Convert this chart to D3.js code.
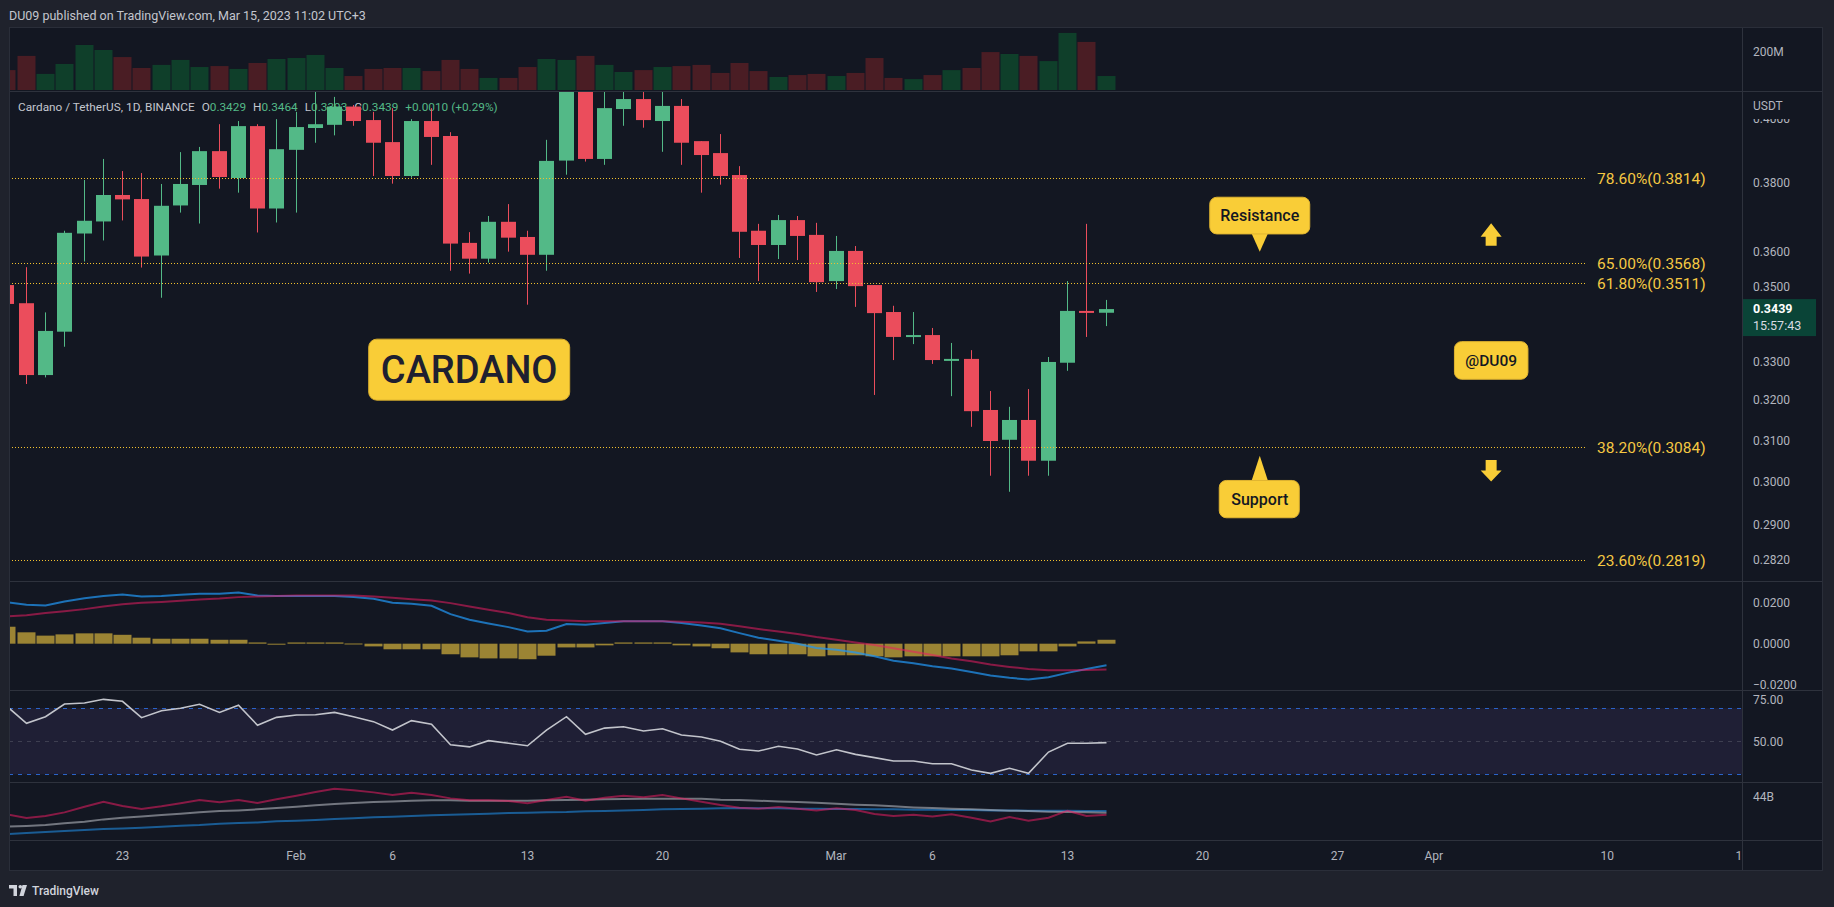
<!DOCTYPE html>
<html>
<head>
<meta charset="utf-8">
<title>Cardano / TetherUS</title>
<script src="https://cdn.jsdelivr.net/npm/d3@7"></script>
<style>
  html, body { margin: 0; padding: 0; background: #1e222d; overflow: hidden; }
  svg { display: block; font-family: Roboto, "Noto Sans", sans-serif; }
</style>
</head>
<body>
<div id="chart"></div>
<script>
// daily candles Jan 17 .. Mar 15 2023
var openPrices = [0.3505, 0.3455, 0.3264, 0.3378, 0.3651, 0.3686, 0.3764, 0.3752, 0.3588, 0.3733,
  0.3794, 0.3897, 0.3815, 0.3975, 0.3724, 0.3901, 0.3969, 0.3979, 0.4037, 0.3994,
  0.3925, 0.3821, 0.3991, 0.3944, 0.3624, 0.3579, 0.3685, 0.3641, 0.3590, 0.3868,
  0.4100, 0.3873, 0.4029, 0.4061, 0.3991, 0.4039, 0.3928, 0.3891, 0.3824, 0.3659,
  0.3618, 0.3690, 0.3647, 0.3516, 0.3601, 0.3505, 0.3431, 0.3364, 0.3369, 0.3303,
  0.3306, 0.3175, 0.3101, 0.3150, 0.3050, 0.3296, 0.3434, 0.3429];
var highPrices = [0.3540, 0.3555, 0.3430, 0.3659, 0.3809, 0.3873, 0.3836, 0.3830, 0.3797, 0.3894,
  0.3910, 0.3981, 0.3991, 0.3981, 0.3997, 0.4020, 0.4120, 0.4068, 0.4042, 0.4020,
  0.4032, 0.3997, 0.4032, 0.3956, 0.3655, 0.3702, 0.3737, 0.3659, 0.3932, 0.4130,
  0.4200, 0.4110, 0.4100, 0.4100, 0.4120, 0.4061, 0.3928, 0.3950, 0.3851, 0.3679,
  0.3705, 0.3702, 0.3682, 0.3644, 0.3615, 0.3505, 0.3448, 0.3431, 0.3388, 0.3348,
  0.3329, 0.3223, 0.3183, 0.3228, 0.3311, 0.3516, 0.3679, 0.3464];
var lowPrices = [0.3440, 0.3241, 0.3258, 0.3338, 0.3571, 0.3631, 0.3689, 0.3554, 0.3470, 0.3712,
  0.3680, 0.3783, 0.3771, 0.3654, 0.3683, 0.3712, 0.3923, 0.3946, 0.3976, 0.3821,
  0.3798, 0.3816, 0.3855, 0.3545, 0.3537, 0.3568, 0.3599, 0.3451, 0.3545, 0.3825,
  0.3865, 0.3855, 0.3976, 0.3970, 0.3895, 0.3855, 0.3771, 0.3795, 0.3581, 0.3516,
  0.3578, 0.3575, 0.3486, 0.3494, 0.3445, 0.3213, 0.3303, 0.3345, 0.3293, 0.3210,
  0.3133, 0.3014, 0.2976, 0.3014, 0.3014, 0.3275, 0.3364, 0.3393];
var closePrices = [0.3453, 0.3264, 0.3380, 0.3653, 0.3688, 0.3764, 0.3751, 0.3585, 0.3732, 0.3797,
  0.3897, 0.3818, 0.3975, 0.3724, 0.3903, 0.3972, 0.3981, 0.4037, 0.3991, 0.3923,
  0.3821, 0.3991, 0.3941, 0.3622, 0.3579, 0.3685, 0.3639, 0.3590, 0.3867, 0.4100,
  0.3873, 0.4032, 0.4061, 0.3994, 0.4039, 0.3923, 0.3885, 0.3821, 0.3656, 0.3618,
  0.3690, 0.3644, 0.3513, 0.3601, 0.3502, 0.3428, 0.3364, 0.3369, 0.3303, 0.3306,
  0.3172, 0.3098, 0.3150, 0.3050, 0.3298, 0.3434, 0.3429, 0.3439];
// volume in millions
var volumes = [104, 178, 84, 136, 235, 209, 172, 115, 131, 157,
  120, 125, 110, 141, 162, 167, 183, 115, 73, 110,
  115, 115, 99, 157, 110, 63, 63, 120, 162, 157,
  178, 131, 94, 104, 120, 125, 131, 89, 141, 99,
  68, 78, 84, 73, 89, 167, 63, 57, 78, 104,
  115, 198, 188, 178, 151, 298, 251, 73];

var macdLine = [0.0201, 0.0188, 0.0185, 0.0204, 0.0220, 0.0231, 0.0238, 0.0228, 0.0230, 0.0236,
  0.0241, 0.0241, 0.0247, 0.0233, 0.0231, 0.0231, 0.0231, 0.0231, 0.0226, 0.0217,
  0.0198, 0.0193, 0.0183, 0.0143, 0.0116, 0.0098, 0.0080, 0.0059, 0.0063, 0.0095,
  0.0092, 0.0100, 0.0108, 0.0109, 0.0109, 0.0100, 0.0088, 0.0075, 0.0051, 0.0029,
  0.0014, 0.0000, -0.0021, -0.0029, -0.0043, -0.0061, -0.0082, -0.0095, -0.0109, -0.0120,
  -0.0137, -0.0154, -0.0165, -0.0173, -0.0162, -0.0141, -0.0122, -0.0104];
var signalLine = [0.0132, 0.0138, 0.0148, 0.0157, 0.0167, 0.0180, 0.0191, 0.0198, 0.0202, 0.0207,
  0.0214, 0.0218, 0.0225, 0.0228, 0.0231, 0.0233, 0.0233, 0.0233, 0.0233, 0.0228,
  0.0222, 0.0215, 0.0209, 0.0196, 0.0180, 0.0164, 0.0148, 0.0128, 0.0116, 0.0112,
  0.0109, 0.0108, 0.0108, 0.0108, 0.0108, 0.0106, 0.0103, 0.0096, 0.0084, 0.0071,
  0.0059, 0.0047, 0.0032, 0.0019, 0.0006, -0.0006, -0.0022, -0.0039, -0.0055, -0.0071,
  -0.0085, -0.0100, -0.0112, -0.0122, -0.0128, -0.0128, -0.0127, -0.0125];
var macdHist = [0.0082, 0.0055, 0.0039, 0.0045, 0.0050, 0.0050, 0.0043, 0.0029, 0.0024, 0.0024,
  0.0024, 0.0019, 0.0019, 0.0006, -0.0003, 0.0006, 0.0006, 0.0006, 0.0001, -0.0013,
  -0.0027, -0.0027, -0.0027, -0.0051, -0.0066, -0.0071, -0.0071, -0.0075, -0.0058, -0.0018,
  -0.0018, -0.0008, 0.0006, 0.0006, 0.0006, -0.0008, -0.0013, -0.0022, -0.0042, -0.0051,
  -0.0051, -0.0051, -0.0061, -0.0056, -0.0056, -0.0061, -0.0066, -0.0061, -0.0061, -0.0061,
  -0.0061, -0.0061, -0.0056, -0.0037, -0.0037, -0.0013, 0.0011, 0.0019];

var rsiValues = [71.4, 60.9, 64.9, 72.6, 73.2, 75.4, 74.2, 64.3, 68.5, 70.0,
  72.4, 67.5, 71.8, 59.7, 64.5, 65.9, 66.1, 67.5, 64.9, 61.9,
  56.8, 62.5, 60.3, 47.9, 46.6, 50.4, 48.8, 47.3, 56.8, 64.9,
  54.2, 58.0, 58.8, 56.2, 57.6, 53.8, 52.6, 50.0, 45.2, 44.1,
  47.0, 45.3, 41.7, 44.9, 42.1, 40.1, 38.1, 38.1, 36.4, 36.4,
  32.6, 30.6, 33.7, 30.6, 43.5, 48.8, 48.8, 49.2];

// bottom pane, billions
var obvValues = [41.06, 40.44, 40.78, 41.39, 42.33, 43.17, 42.44, 41.94, 42.39, 42.89,
  43.44, 43.06, 43.44, 42.94, 43.56, 44.17, 44.78, 45.33, 45.06, 44.72,
  44.28, 44.67, 44.28, 43.72, 43.39, 43.39, 43.28, 42.89, 43.44, 44.00,
  43.33, 43.83, 44.17, 43.89, 44.28, 43.72, 43.17, 42.61, 42.17, 42.00,
  42.28, 42.00, 41.72, 42.06, 41.78, 41.11, 40.78, 41.00, 40.72, 41.06,
  40.50, 39.89, 40.61, 40.00, 40.50, 41.67, 40.78, 41.00];
var obvFast = [39.00, 39.11, 39.28, 39.56, 39.83, 40.22, 40.50, 40.72, 40.94, 41.17,
  41.39, 41.61, 41.72, 41.89, 42.11, 42.33, 42.56, 42.78, 42.94, 43.11,
  43.22, 43.33, 43.39, 43.39, 43.33, 43.33, 43.33, 43.33, 43.39, 43.44,
  43.50, 43.56, 43.61, 43.67, 43.67, 43.67, 43.67, 43.50, 43.44, 43.33,
  43.22, 43.11, 43.00, 42.83, 42.67, 42.56, 42.39, 42.22, 42.11, 42.00,
  41.89, 41.78, 41.67, 41.61, 41.50, 41.44, 41.39, 41.33];
var obvSlow = [37.78, 37.94, 38.11, 38.28, 38.44, 38.61, 38.72, 38.83, 39.00, 39.17,
  39.28, 39.50, 39.61, 39.72, 39.89, 40.00, 40.11, 40.28, 40.39, 40.56,
  40.67, 40.78, 40.89, 41.00, 41.06, 41.17, 41.28, 41.33, 41.39, 41.44,
  41.56, 41.61, 41.72, 41.78, 41.89, 41.94, 42.00, 42.06, 42.11, 42.06,
  42.06, 42.00, 42.00, 41.94, 41.94, 41.89, 41.89, 41.83, 41.83, 41.78,
  41.78, 41.72, 41.72, 41.67, 41.67, 41.67, 41.61, 41.61];

var fibLevels = [0.786, 0.65, 0.618, 0.382, 0.236];
var fibPrices = [0.3814, 0.3568, 0.3511, 0.3084, 0.2819];

var priceTicks = [0.40, 0.38, 0.36, 0.35, 0.33, 0.32, 0.31, 0.30, 0.29, 0.282];
var macdTicks = [0.02, 0, -0.02];
var rsiTicks = [75, 50];
var obvTicks = [44];
var timeTicks = ["2023-01-23", "2023-02-01", "2023-02-06", "2023-02-13", "2023-02-20", "2023-03-01",
  "2023-03-06", "2023-03-13", "2023-03-20", "2023-03-27", "2023-04-01", "2023-04-10", "2023-04-17"];

var svgWidth = 1834;
var svgHeight = 907;

var chartLeft = 9, chartRight = 1742, axisRight = 1823;
var volTop = 27, priceTop = 91, macdTop = 581, rsiTop = 690, obvTop = 782, timeTop = 840, timeBottom = 871;

var upColor = "#53b987", downColor = "#eb4d5c";
var axisText = "#b2b5be", yellow = "#f9cd37";

var svg = d3.select("#chart")
  .append("svg")
  .attr("width", svgWidth)
  .attr("height", svgHeight);

svg.append("rect").attr("width", svgWidth).attr("height", svgHeight).attr("fill", "#1f222c");
svg.append("rect")
  .attr("x", chartLeft).attr("y", volTop)
  .attr("width", axisRight - chartLeft).attr("height", timeBottom - volTop)
  .attr("fill", "#131722");

var defs = svg.append("defs");
function addClip(id, x0, y0, x1, y1) {
  defs.append("clipPath").attr("id", id)
    .append("rect").attr("x", x0).attr("y", y0).attr("width", x1 - x0).attr("height", y1 - y0);
}
addClip("clipVol", chartLeft, volTop, chartRight, priceTop);
addClip("clipPrice", chartLeft, priceTop, chartRight, macdTop);
addClip("clipMacd", chartLeft, macdTop, chartRight, rsiTop);
addClip("clipRsi", chartLeft, rsiTop, chartRight, obvTop);
addClip("clipObv", chartLeft, obvTop, chartRight, timeTop);
// these two are used on translated axis groups, so local coordinates
addClip("clipAxisMacd", 0, macdTop, axisRight - chartRight, rsiTop);
addClip("clipTimeAxis", chartLeft, -5, chartRight, 35);

// header
svg.append("text")
  .attr("x", 9).attr("y", 19.5)
  .attr("font-size", 12.5)
  .attr("fill", "#c3c6ce")
  .text("DU09 published on TradingView.com, Mar 15, 2023 11:02 UTC+3");

var dates = d3.utcDay.range(new Date(Date.UTC(2023, 0, 17)), new Date(Date.UTC(2023, 2, 16)));

var candles = dates.map(function(d, i) {
  return {
    date: d, open: openPrices[i], high: highPrices[i], low: lowPrices[i], close: closePrices[i],
    volume: volumes[i], up: closePrices[i] >= openPrices[i],
    macd: macdLine[i], signal: signalLine[i], hist: macdHist[i],
    rsi: rsiValues[i], obv: obvValues[i], obvFast: obvFast[i], obvSlow: obvSlow[i]
  };
});

var xScale = d3.scaleUtc()
  .domain([new Date(Date.UTC(2023, 0, 18)), new Date(Date.UTC(2023, 2, 15))])
  .range([25.7, 1105.5]);

var yPrice = d3.scaleLog().domain([0.2773, 0.4087]).range([macdTop, priceTop]);
var yVol = d3.scaleLinear().domain([0, 200]).range([90, 51.7]);
var yMacd = d3.scaleLinear().domain([-0.02, 0.02]).range([685.1, 602.3]);
var yRsi = d3.scaleLinear().domain([0, 100]).range([823.9, 658.7]);
var yObv = d3.scaleLinear().domain([40, 44]).range([820.7, 796.7]);

function cx(d) { return Math.round(xScale(d.date)); }

// volume pane
svg.append("g").attr("clip-path", "url(#clipVol)")
  .selectAll("rect").data(candles).enter().append("rect")
  .attr("x", d => cx(d) - 8.5)
  .attr("y", d => yVol(d.volume))
  .attr("width", 18)
  .attr("height", d => yVol(0) - yVol(d.volume))
  .attr("fill", d => d.up ? "#0f3f2a" : "#4a1d24");

// legend (under the candles)
var last = candles[candles.length - 1];
var prev = candles[candles.length - 2];
var f4 = d3.format(".4f");
var legend = svg.append("text").attr("x", 18).attr("y", 110.5).attr("font-size", 11.8).attr("fill", "#c3c6ce");
legend.append("tspan").text("Cardano / TetherUS, 1D, BINANCE");
[["O", last.open], ["H", last.high], ["L", last.low], ["C", last.close]].forEach(function(p) {
  legend.append("tspan").attr("dx", 7).text(p[0]);
  legend.append("tspan").attr("fill", upColor).text(f4(p[1]));
});
var chg = last.close - prev.close;
legend.append("tspan").attr("dx", 7).attr("fill", upColor)
  .text("+" + f4(chg) + " (+" + d3.format(".2f")(chg / prev.close * 100) + "%)");

// candles
var candleGroup = svg.append("g").attr("clip-path", "url(#clipPrice)");
candleGroup.selectAll(".wick").data(candles).enter().append("rect")
  .attr("class", "wick")
  .attr("x", d => cx(d))
  .attr("y", d => yPrice(d.high))
  .attr("width", 1)
  .attr("height", d => yPrice(d.low) - yPrice(d.high))
  .attr("fill", d => d.up ? upColor : downColor);
candleGroup.selectAll(".body").data(candles).enter().append("rect")
  .attr("class", "body")
  .attr("x", d => cx(d) - 7)
  .attr("y", d => yPrice(Math.max(d.open, d.close)))
  .attr("width", 15)
  .attr("height", d => Math.max(2, Math.abs(yPrice(d.open) - yPrice(d.close))))
  .attr("fill", d => d.up ? upColor : downColor);

// fibonacci levels
var fibGroup = svg.append("g").attr("clip-path", "url(#clipPrice)");
fibPrices.forEach(function(p, i) {
  var yy = Math.round(yPrice(p)) + 0.5;
  fibGroup.append("line")
    .attr("x1", chartLeft).attr("x2", 1586)
    .attr("y1", yy).attr("y2", yy)
    .attr("stroke", "#f2c12e").attr("stroke-width", 1)
    .attr("stroke-dasharray", "1 2");
  fibGroup.append("text")
    .attr("x", 1597).attr("y", yy).attr("dy", "0.35em")
    .attr("font-size", 15.5).attr("fill", "#f5c842")
    .text(d3.format(".2f")(fibLevels[i] * 100) + "%(" + f4(p) + ")");
});

// annotations
var notes = svg.append("g");
function dayX(s) { return xScale(new Date(s + "T00:00:00Z")); }

var cardX = dayX("2023-02-10"), cardY = yPrice(0.3278);
notes.append("rect").attr("x", cardX - 100.5).attr("y", cardY - 30.5).attr("width", 201).attr("height", 61)
  .attr("rx", 8).attr("fill", yellow).attr("stroke", "#d9ae2e");
notes.append("text").attr("x", cardX).attr("y", cardY).attr("dy", "0.36em")
  .attr("text-anchor", "middle").attr("font-size", 38).attr("font-weight", 500).attr("fill", "#1e2030")
  .text("CARDANO");

var resX = dayX("2023-03-23"), resY = yPrice(0.3599);
notes.append("path")
  .attr("d", `M${resX - 8.5},${resY - 19} L${resX + 8.5},${resY - 19} L${resX},${resY} Z`).attr("fill", yellow);
notes.append("rect").attr("x", resX - 50).attr("y", resY - 54.4).attr("width", 100).attr("height", 36.7)
  .attr("rx", 7).attr("fill", yellow).attr("stroke", "#e0b431");
notes.append("text").attr("x", resX).attr("y", resY - 36).attr("dy", "0.36em")
  .attr("text-anchor", "middle").attr("font-size", 16).attr("font-weight", 500).attr("fill", "#131722")
  .text("Resistance");

var supX = dayX("2023-03-23"), supY = yPrice(0.3062);
notes.append("path")
  .attr("d", `M${supX - 8.5},${supY + 26} L${supX + 8.5},${supY + 26} L${supX},${supY} Z`).attr("fill", yellow);
notes.append("rect").attr("x", supX - 40.5).attr("y", supY + 24.7).attr("width", 80).attr("height", 37.3)
  .attr("rx", 7).attr("fill", yellow).attr("stroke", "#e0b431");
notes.append("text").attr("x", supX).attr("y", supY + 43.3).attr("dy", "0.36em")
  .attr("text-anchor", "middle").attr("font-size", 16).attr("font-weight", 500).attr("fill", "#131722")
  .text("Support");

var tagX = dayX("2023-04-04"), tagY = yPrice(0.3302);
notes.append("rect").attr("x", tagX - 36.7).attr("y", tagY - 18.8).attr("width", 73.5).attr("height", 37.6)
  .attr("rx", 7).attr("fill", yellow).attr("stroke", "#e0b431");
notes.append("text").attr("x", tagX).attr("y", tagY).attr("dy", "0.36em")
  .attr("text-anchor", "middle").attr("font-size", 15.5).attr("font-weight", 500).attr("fill", "#131722")
  .text("@DU09");

var upX = dayX("2023-04-04"), upY = yPrice(0.3681);
notes.append("path")
  .attr("d", `M${upX},${upY} L${upX + 10.5},${upY + 13.5} L${upX + 5.5},${upY + 13.5} L${upX + 5.5},${upY + 22.7}
    L${upX - 5.5},${upY + 22.7} L${upX - 5.5},${upY + 13.5} L${upX - 10.5},${upY + 13.5} Z`)
  .attr("fill", yellow);
var dnX = dayX("2023-04-04"), dnY = yPrice(0.3000);
notes.append("path")
  .attr("d", `M${dnX},${dnY} L${dnX + 10.5},${dnY - 11} L${dnX + 5.5},${dnY - 11} L${dnX + 5.5},${dnY - 21.7}
    L${dnX - 5.5},${dnY - 21.7} L${dnX - 5.5},${dnY - 11} L${dnX - 10.5},${dnY - 11} Z`)
  .attr("fill", yellow);

// MACD pane
var macdGroup = svg.append("g").attr("clip-path", "url(#clipMacd)");
macdGroup.selectAll("rect").data(candles).enter().append("rect")
  .attr("x", d => cx(d) - 8.5)
  .attr("y", d => Math.min(yMacd(d.hist), yMacd(0)))
  .attr("width", 18)
  .attr("height", d => Math.max(1, Math.abs(yMacd(d.hist) - yMacd(0))))
  .attr("fill", "#9b8434");
macdGroup.append("path").datum(candles)
  .attr("fill", "none").attr("stroke", "rgba(33,150,243,0.72)").attr("stroke-width", 2)
  .attr("d", d3.line().x(d => cx(d) + 0.5).y(d => yMacd(d.macd)));
macdGroup.append("path").datum(candles)
  .attr("fill", "none").attr("stroke", "rgba(233,30,99,0.55)").attr("stroke-width", 2)
  .attr("d", d3.line().x(d => cx(d) + 0.5).y(d => yMacd(d.signal)));

// RSI pane
var rsiGroup = svg.append("g").attr("clip-path", "url(#clipRsi)");
rsiGroup.append("rect")
  .attr("x", chartLeft).attr("y", yRsi(70)).attr("width", chartRight - chartLeft).attr("height", yRsi(30) - yRsi(70))
  .attr("fill", "rgba(126,87,194,0.12)");
[70, 30].forEach(function(v) {
  rsiGroup.append("line").attr("x1", chartLeft).attr("x2", chartRight)
    .attr("y1", Math.round(yRsi(v)) + 0.5).attr("y2", Math.round(yRsi(v)) + 0.5)
    .attr("stroke", "#2a63c9").attr("stroke-dasharray", "4 5");
});
rsiGroup.append("line").attr("x1", chartLeft).attr("x2", chartRight)
  .attr("y1", Math.round(yRsi(50)) + 0.5).attr("y2", Math.round(yRsi(50)) + 0.5)
  .attr("stroke", "rgba(120,123,134,0.35)").attr("stroke-dasharray", "4 5");
rsiGroup.append("path").datum(candles)
  .attr("fill", "none").attr("stroke", "#c2c4cb").attr("stroke-width", 1.6)
  .attr("d", d3.line().x(d => cx(d) + 0.5).y(d => yRsi(d.rsi)));

// bottom pane lines
var obvGroup = svg.append("g").attr("clip-path", "url(#clipObv)");
[["obvSlow", "rgba(33,150,243,0.55)"], ["obvFast", "rgba(178,181,190,0.6)"], ["obv", "rgba(233,30,99,0.55)"]]
  .forEach(function(s) {
    obvGroup.append("path").datum(candles)
      .attr("fill", "none").attr("stroke", s[1]).attr("stroke-width", 2)
      .attr("d", d3.line().x(d => cx(d) + 0.5).y(d => yObv(d[s[0]])));
  });

// separators
[priceTop, macdTop, rsiTop, obvTop, timeTop].forEach(function(yy) {
  svg.append("line").attr("x1", chartLeft).attr("x2", axisRight)
    .attr("y1", yy + 0.5).attr("y2", yy + 0.5).attr("stroke", "#2e323d");
});
svg.append("line").attr("x1", chartRight + 0.5).attr("x2", chartRight + 0.5)
  .attr("y1", volTop).attr("y2", timeBottom).attr("stroke", "#2e323d");
svg.append("rect").attr("x", chartLeft + 0.5).attr("y", volTop + 0.5)
  .attr("width", axisRight - chartLeft - 1).attr("height", timeBottom - volTop - 1)
  .attr("fill", "none").attr("stroke", "#2a2e39");

// right axes
function styleAxis(g) {
  g.select(".domain").remove();
  g.attr("font-size", 12).attr("font-family", "Roboto, 'Noto Sans', sans-serif").attr("color", axisText);
}
svg.append("g").attr("transform", `translate(${chartRight},0)`)
  .call(d3.axisRight(yVol).tickValues([200]).tickSize(0).tickPadding(11).tickFormat(d => d + "M"))
  .call(styleAxis);
svg.append("g").attr("transform", `translate(${chartRight},0)`)
  .call(d3.axisRight(yPrice).tickValues(priceTicks).tickSize(0).tickPadding(11).tickFormat(f4))
  .call(styleAxis);
// USDT caption box hides the top half of the 0.4000 label, as in the screenshot
svg.append("rect").attr("x", chartRight + 1).attr("y", priceTop + 1).attr("width", axisRight - chartRight - 2).attr("height", 27)
  .attr("fill", "#131722");
svg.append("text").attr("x", chartRight + 11).attr("y", 106).attr("dy", "0.32em")
  .attr("font-size", 12).attr("fill", axisText).text("USDT");
svg.append("g").attr("transform", `translate(${chartRight},0)`).attr("clip-path", "url(#clipAxisMacd)")
  .call(d3.axisRight(yMacd).tickValues(macdTicks).tickSize(0).tickPadding(11).tickFormat(f4))
  .call(styleAxis);
svg.append("g").attr("transform", `translate(${chartRight},0)`)
  .call(d3.axisRight(yRsi).tickValues(rsiTicks).tickSize(0).tickPadding(11).tickFormat(d3.format(".2f")))
  .call(styleAxis);
svg.append("g").attr("transform", `translate(${chartRight},0)`)
  .call(d3.axisRight(yObv).tickValues(obvTicks).tickSize(0).tickPadding(11).tickFormat(d => d + "B"))
  .call(styleAxis);

// last price tag
var lastY = yPrice(last.close);
svg.append("rect").attr("x", chartRight + 1).attr("y", lastY - 10).attr("width", 73).attr("height", 37)
  .attr("fill", "#0a4437");
svg.append("text").attr("x", chartRight + 11).attr("y", lastY).attr("dy", "0.35em")
  .attr("font-size", 12.5).attr("font-weight", 700).attr("fill", "#ffffff").text(f4(last.close));
svg.append("text").attr("x", chartRight + 11).attr("y", lastY + 17).attr("dy", "0.35em")
  .attr("font-size", 12.5).attr("fill", "#d8dbe2").text("15:57:43");

// time axis
var monthFmt = d3.utcFormat("%b"), dayFmt = d3.utcFormat("%-d");
svg.append("g").attr("transform", `translate(0,${timeTop})`).attr("clip-path", "url(#clipTimeAxis)")
  .call(d3.axisBottom(xScale)
    .tickValues(timeTicks.map(s => new Date(s + "T00:00:00Z")))
    .tickSize(0).tickPadding(11)
    .tickFormat(d => d.getUTCDate() === 1 ? monthFmt(d) : dayFmt(d)))
  .call(styleAxis);

// footer logo
var logo = svg.append("g").attr("fill", "#d1d4dc");
logo.append("path").attr("d", "M9,885 H17 V896 H13.5 V888.4 H9 Z");
logo.append("circle").attr("cx", 20.3).attr("cy", 886.8).attr("r", 1.8);
logo.append("path").attr("d", "M22.5,885 H27 L23.6,896 H19.4 Z");
svg.append("text").attr("x", 32).attr("y", 895).attr("font-size", 12).attr("font-weight", 500)
  .attr("fill", "#d1d4dc").text("TradingView");
</script>
</body>
</html>
